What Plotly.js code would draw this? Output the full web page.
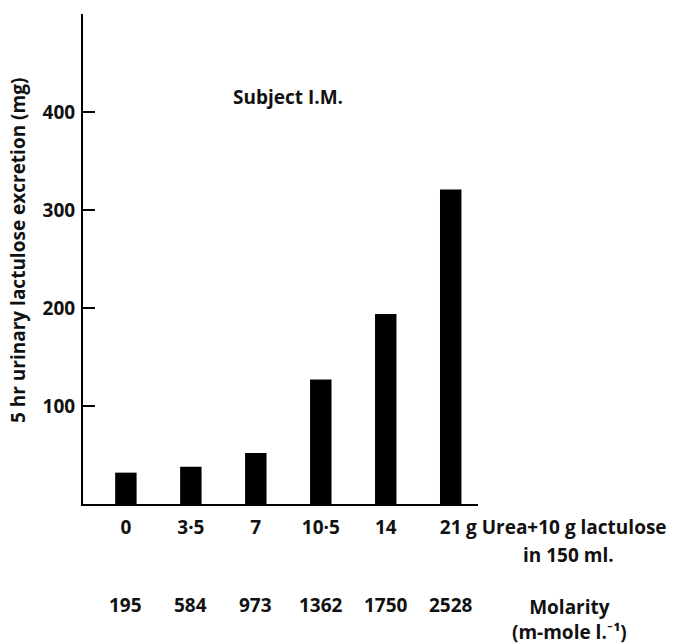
<!DOCTYPE html>
<html>
<head>
<meta charset="utf-8">
<script src="https://cdn.plot.ly/plotly-3.0.1.min.js"></script>
<style>html,body{margin:0;padding:0;background:#fff;}#chart{width:678px;height:644px;}</style>
</head>
<body>
<div id="chart"></div>
<script>
var ureaDose = ["0", "3·5", "7", "10·5", "14", "21"];
var excretion = [32, 38, 52, 127, 194, 321];
var molarity = ["195", "584", "973", "1362", "1750", "2528"];
var yTicks = [100, 200, 300, 400];

var FONT = "'Open Sans', Lato, 'DejaVu Sans', sans-serif";
var txt = {family: FONT, size: 19, color: "#111", weight: 700};

var molY = -0.206;
var annotations = molarity.map(function (m, i) {
  return {x: i, xref: "x", y: molY, yref: "paper", text: m, showarrow: false,
          xanchor: "center", yanchor: "middle", font: txt};
});
annotations.push(
  {x: 0.965, xref: "paper", y: -0.047, yref: "paper", text: "g Urea+10 g lactulose", showarrow: false, xanchor: "left", yanchor: "middle", font: txt},
  {x: 1.228, xref: "paper", y: -0.104, yref: "paper", text: "in 150 ml.", showarrow: false, xanchor: "center", yanchor: "middle", font: txt},
  {x: 1.232, xref: "paper", y: molY + 0.0265, yref: "paper", text: "Molarity<br>(m-mole l.⁻¹)", showarrow: false, xanchor: "center", yanchor: "top", align: "center", font: txt},
  {x: 0.519, xref: "paper", y: 0.831, yref: "paper", text: "Subject I.M.", showarrow: false, xanchor: "center", yanchor: "middle", font: txt},
  {x: -0.165, xref: "paper", y: 0.518, yref: "paper", text: "5 hr urinary lactulose excretion (mg)", textangle: -90, showarrow: false, xanchor: "center", yanchor: "middle", font: txt}
);

var data = [{
  type: "bar",
  x: ureaDose,
  y: excretion,
  width: 0.33,
  marker: {color: "#000", line: {width: 0}},
  hoverinfo: "none"
}];

var layout = {
  width: 678, height: 644,
  margin: {l: 83, r: 200, t: 14, b: 140, pad: 0},
  paper_bgcolor: "#fff", plot_bgcolor: "#fff",
  showlegend: false,
  font: txt,
  xaxis: {
    type: "category",
    range: [-0.66, 5.42],
    showline: true, linecolor: "#000", linewidth: 2,
    ticks: "", showgrid: false, zeroline: false,
    tickfont: txt,
    ticklabelstandoff: 5
  },
  yaxis: {
    range: [0, 500],
    showline: true, linecolor: "#000", linewidth: 2,
    ticks: "inside", ticklen: 12, tickwidth: 2, tickcolor: "#000",
    tickvals: yTicks,
    showgrid: false, zeroline: false,
    tickfont: txt,
    ticklabelstandoff: 2
  },
  annotations: annotations
};

Plotly.newPlot("chart", data, layout, {staticPlot: true, displayModeBar: false});
</script>
</body>
</html>
